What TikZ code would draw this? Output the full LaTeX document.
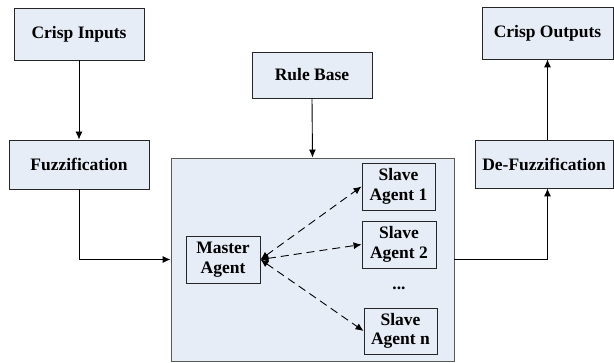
\documentclass[tikz,border=0pt]{standalone}
\usepackage{fontspec}
\setmainfont{Liberation Serif}
\usetikzlibrary{arrows.meta}
\definecolor{boxfill}{RGB}{231,237,247}
\begin{document}
\begin{tikzpicture}[x=1pt,y=-1pt,
  blk/.style={draw=black!85, fill=boxfill, line width=0.9pt, font=\fontsize{17.5}{19.5}\selectfont\bfseries, align=center, inner sep=0pt},
  arr/.style={-{Latex[length=8pt,width=7pt]}, line width=0.9pt},
  darr/.style={{Latex[length=8pt,width=7pt]}-{Latex[length=8pt,width=7pt]}, dash pattern=on 8pt off 5pt, line width=0.9pt}]
\useasboundingbox (0,0) rectangle (614,363);
\node[blk, minimum width=130pt, minimum height=52pt] (ci) at (79,34) {Crisp Inputs};
\node[blk, minimum width=140pt, minimum height=49pt] (fz) at (79,164.5) {Fuzzification};
\node[blk, minimum width=120pt, minimum height=46pt] (rb) at (312,75) {Rule Base};
\node[blk, draw=black!65, minimum width=283pt, minimum height=203pt] (bb) at (312.5,259.5) {};
\node[blk, minimum width=131pt, minimum height=52pt] (co) at (547.5,33) {Crisp Outputs};
\node[blk, minimum width=138pt, minimum height=48pt] (df) at (544,164) {De-Fuzzification};
\node[blk, minimum width=74pt, minimum height=47pt] (ma) at (223,259.5) {Master\\Agent};
\node[blk, minimum width=73pt, minimum height=47pt] (s1) at (398.5,186.5) {Slave\\Agent 1};
\node[blk, minimum width=74pt, minimum height=47pt] (s2) at (399,244.5) {Slave\\Agent 2};
\node[blk, minimum width=73pt, minimum height=46pt] (sn) at (400.5,331) {Slave\\Agent n};
\node[font=\fontsize{17.5}{19.5}\selectfont\bfseries] (dots) at (399,288) {...};
\draw[arr] (ci.south) -- (fz.north);
\draw[arr] (rb.south) -- (bb.north);
\draw[arr] (fz.south) |- (bb.west);
\draw[arr] (bb.east) -| (df.south -| co.south);
\draw[arr] (df.north -| co.south) -- (co.south);
\draw[darr] (ma.east) -- (s1.west);
\draw[darr] (ma.east) -- (s2.west);
\draw[darr] (ma.east) -- (sn.west);
\end{tikzpicture}
\end{document}
